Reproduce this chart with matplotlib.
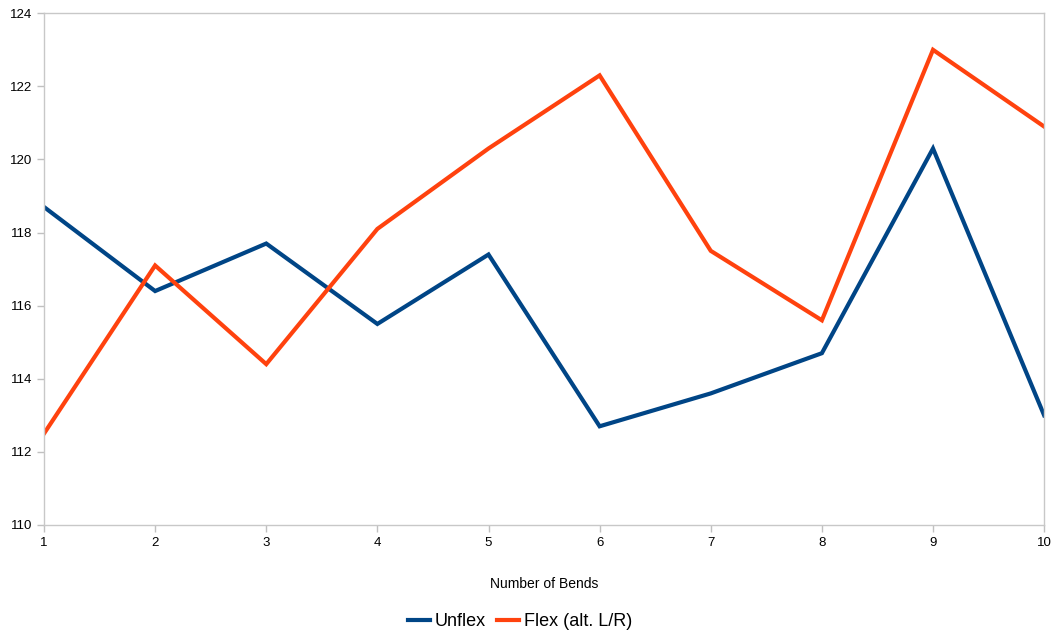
import matplotlib
matplotlib.use("Agg")
import matplotlib.pyplot as plt

# data
bends = [1, 2, 3, 4, 5, 6, 7, 8, 9, 10]
unflex = [118.7, 116.4, 117.7, 115.5, 117.4, 112.7, 113.6, 114.7, 120.3, 113.0]
flex = [112.5, 117.1, 114.4, 118.1, 120.3, 122.3, 117.5, 115.6, 123.0, 120.9]

plt.rcParams["font.family"] = ["Liberation Sans", "DejaVu Sans"]

fig = plt.figure(figsize=(10.55, 6.31), dpi=100)
ax = fig.add_axes([0.0417, 0.168, 0.948, 0.811])

ax.plot(bends, unflex, color="#004586", lw=3, label="Unflex", solid_joinstyle="miter")
ax.plot(bends, flex, color="#ff420e", lw=3, label="Flex (alt. L/R)", solid_joinstyle="miter")

ax.set_xlim(1, 10)
ax.set_ylim(110, 124)
ax.set_xticks(bends)
ax.set_yticks(range(110, 125, 2))
ax.tick_params(colors="#c0c0c0", labelcolor="#000000", labelsize=9.5, length=5, width=1)
for s in ax.spines.values():
    s.set_color("#c8c8c8")
    s.set_linewidth(1)
ax.set_xlabel("Number of Bends", fontsize=10, labelpad=20)

ax.legend(loc="upper center", bbox_to_anchor=(0.476, -0.14), ncol=2, frameon=False,
          fontsize=13, handlelength=1.2, handletextpad=0.3, columnspacing=0.6)

fig.savefig("out.png", dpi=100)
